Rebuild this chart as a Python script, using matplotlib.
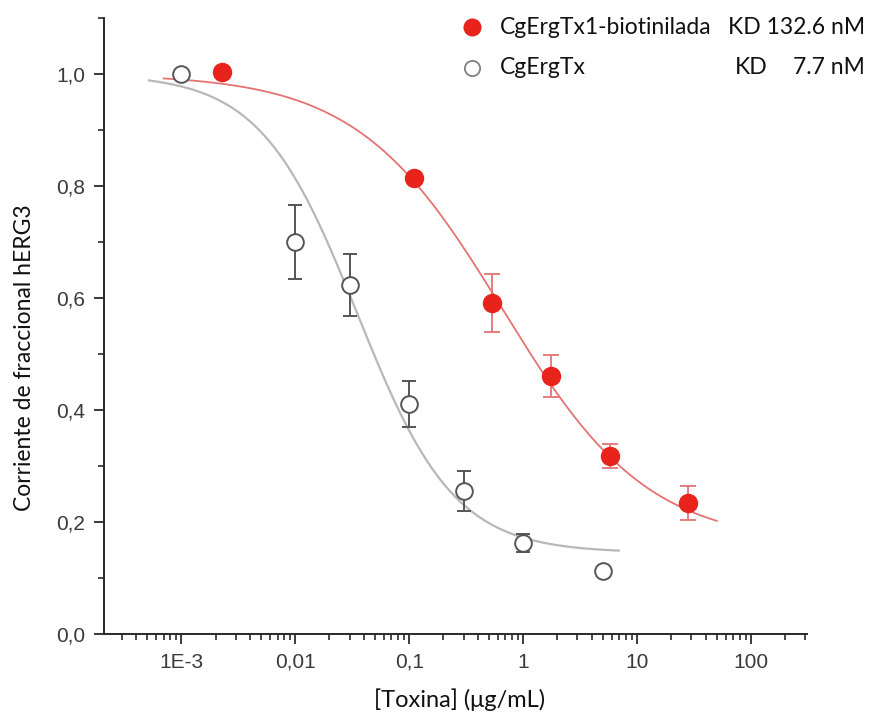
import matplotlib
matplotlib.use("Agg")
import matplotlib.pyplot as plt
from matplotlib.lines import Line2D
from matplotlib.ticker import FixedLocator, FixedFormatter, LogLocator, MultipleLocator
import numpy as np

# datos CgErgTx1-biotinilada (rojo, relleno)
x_bio = [0.0023, 0.11, 0.53, 1.76, 5.8, 28]
y_bio = [1.004, 0.814, 0.591, 0.461, 0.318, 0.234]
err_bio = [0.0, 0.0, 0.051, 0.038, 0.022, 0.031]

# datos CgErgTx (gris, abierto)
x_tx = [0.001, 0.01, 0.03, 0.1, 0.3, 1.0, 5.0]
y_tx = [1.0, 0.70, 0.623, 0.41, 0.255, 0.163, 0.1125]
err_tx = [0.0, 0.066, 0.055, 0.041, 0.036, 0.016, 0.0]

# parametros del ajuste dosis-respuesta (A1, A2, x0, p) y rango de la curva
fit_bio = (1.0, 0.16, 0.66, 0.68)
fit_tx = (1.0, 0.145, 0.035, 1.02)
rng_bio = (7e-4, 50)
rng_tx = (5.2e-4, 6.9)

xtick_vals = [1e-3, 1e-2, 1e-1, 1, 10, 100]
xtick_labels = ["1E-3", "0,01", "0,1", "1", "10", "100"]
ytick_vals = [0.0, 0.2, 0.4, 0.6, 0.8, 1.0]
ytick_labels = ["0,0", "0,2", "0,4", "0,6", "0,8", "1,0"]

RED = "#e8231c"
RED_LINE = "#e57373"
GRAY_LINE = "#b8b8b8"
GRAY_MK = "#555555"
TXT = "#3a3a3a"


def logistic(x, a1, a2, x0, p):
    return a2 + (a1 - a2) / (1 + (x / x0) ** p)


W, H = 871, 715
fig = plt.figure(figsize=(W / 100, H / 100), dpi=100)
ax = fig.add_axes([104 / W, 1 - 634 / H, (807 - 104) / W, (634 - 18) / H])

# curvas de ajuste
xc = np.logspace(np.log10(rng_tx[0]), np.log10(rng_tx[1]), 300)
ax.plot(xc, logistic(xc, *fit_tx), color=GRAY_LINE, lw=1.6, zorder=2)
xc = np.logspace(np.log10(rng_bio[0]), np.log10(rng_bio[1]), 300)
ax.plot(xc, logistic(xc, *fit_bio), color=RED_LINE, lw=1.3, zorder=2)

# puntos con barras de error (sin mew: si no, pisa el capthick)
eb = ax.errorbar(x_tx, y_tx, yerr=err_tx, fmt="o", ms=12, mfc="white", mec=GRAY_MK,
                 ecolor=GRAY_MK, elinewidth=1.4, capsize=5, capthick=1.4, zorder=3)
eb[0].set_markeredgewidth(1.4)
ax.errorbar(x_bio, y_bio, yerr=err_bio, fmt="o", ms=13, mfc=RED, mec=RED,
            ecolor=RED_LINE, elinewidth=1.3, capsize=5.5, capthick=1.3, zorder=3)

ax.set_xscale("log")
ax.set_xlim(2.1e-4, 310)
ax.set_ylim(0, 1.1)

ax.xaxis.set_major_locator(FixedLocator(xtick_vals))
ax.xaxis.set_major_formatter(FixedFormatter(xtick_labels))
ax.xaxis.set_minor_locator(LogLocator(base=10, subs=np.arange(2, 10), numticks=20))
ax.yaxis.set_major_locator(FixedLocator(ytick_vals))
ax.yaxis.set_major_formatter(FixedFormatter(ytick_labels))
ax.yaxis.set_minor_locator(MultipleLocator(0.1))

for s in ["top", "right"]:
    ax.spines[s].set_visible(False)
for s in ["left", "bottom"]:
    ax.spines[s].set_color("#2a2a2a")
    ax.spines[s].set_linewidth(1.4)

ax.tick_params(which="major", direction="out", length=7.5, width=1.3, color="#2a2a2a",
               labelsize=15, labelcolor=TXT, pad=6)
ax.tick_params(which="minor", direction="out", length=4, width=1.2, color="#2a2a2a")
for lab in ax.get_xticklabels() + ax.get_yticklabels():
    lab.set_fontfamily("Liberation Sans")

fig.text(460 / W, 1 - 700 / H, "[Toxina] (\u03bcg/mL)", ha="center", va="center",
         fontsize=17, family="Lato", color="#111111")
fig.text(25 / W, 1 - 358 / H, "Corriente de fraccional hERG3", ha="center", va="center",
         rotation=90, fontsize=16.5, family="Lato", color="#111111")

# leyenda hecha a mano
fig.add_artist(Line2D([472 / W], [1 - 27 / H], marker="o", ms=13, mfc=RED, mec=RED,
                      mew=0, transform=fig.transFigure))
fig.add_artist(Line2D([472 / W], [1 - 68 / H], marker="o", ms=11, mfc="white", mec="#808080",
                      mew=1.3, transform=fig.transFigure))
leg_kw = dict(fontsize=16.5, family="Lato", color="#111111", va="center")
fig.text(500 / W, 1 - 27 / H, "CgErgTx1-biotinilada", ha="left", **leg_kw)
fig.text(865 / W, 1 - 27 / H, "KD 132.6 nM", ha="right", **leg_kw)
fig.text(500 / W, 1 - 68 / H, "CgErgTx", ha="left", **leg_kw)
fig.text(735 / W, 1 - 68 / H, "KD", ha="left", **leg_kw)
fig.text(865 / W, 1 - 68 / H, "7.7 nM", ha="right", **leg_kw)

fig.savefig("out.png", dpi=100)
